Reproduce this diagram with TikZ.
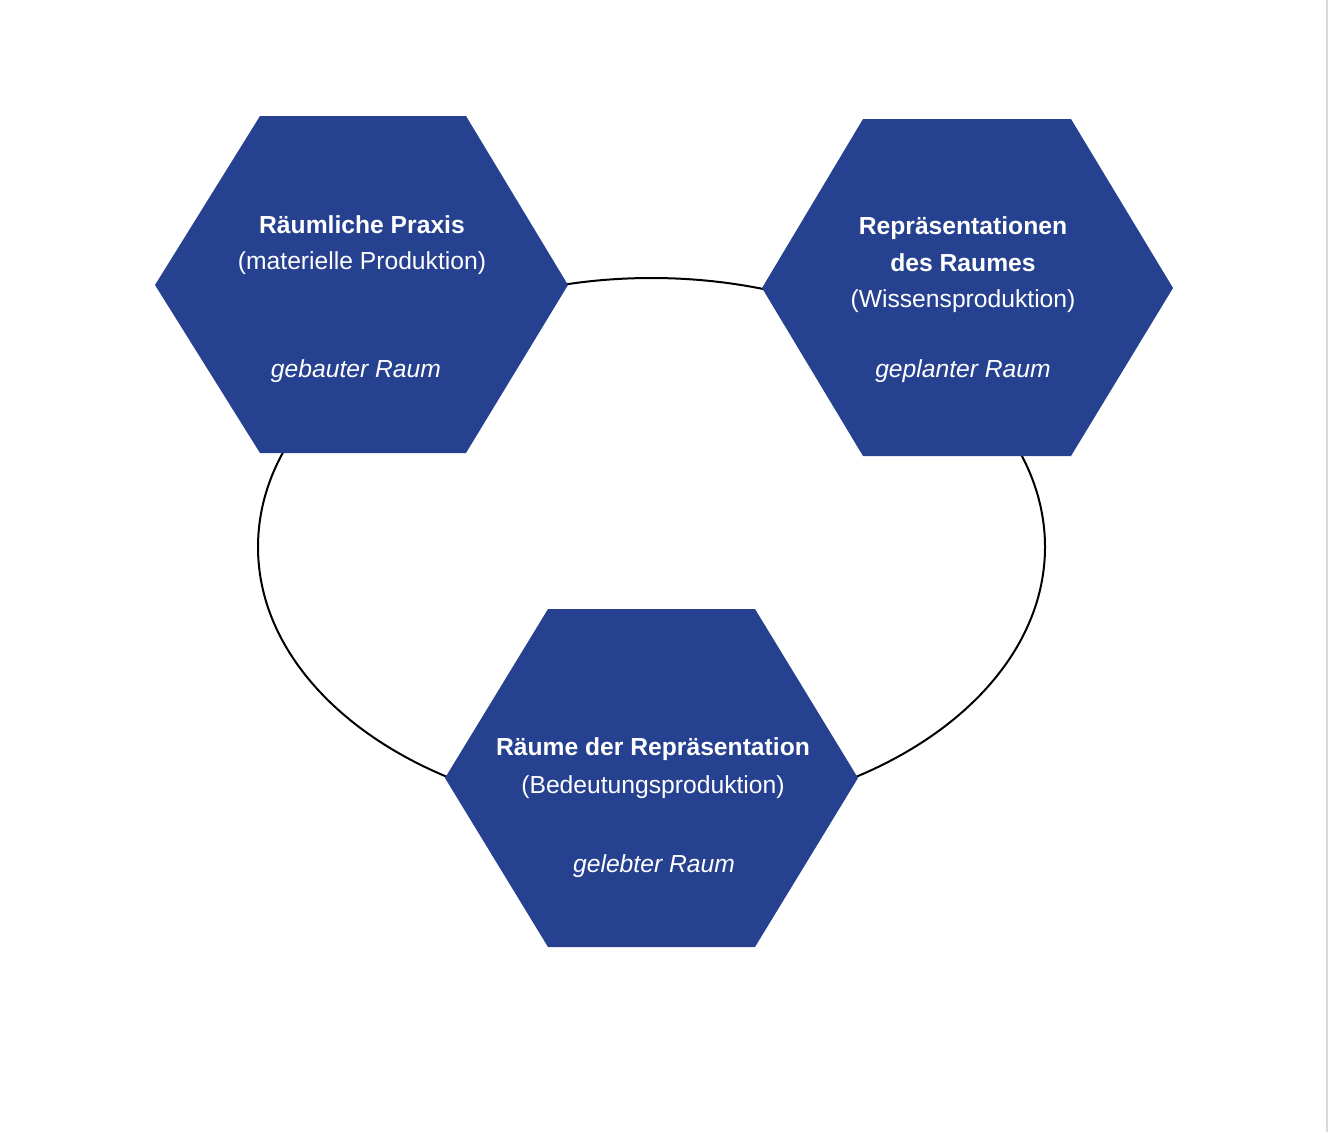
\documentclass[tikz,border=0pt]{standalone}
\usepackage{fontspec}
\setmainfont{Liberation Sans}
\definecolor{hexblue}{HTML}{26418F}
\tikzset{
  hexa/.style={fill=hexblue, draw=none},
  label/.style={text=white, font=\fontsize{18.5}{28}\selectfont, align=center, inner sep=0pt},
}
\begin{document}
\begin{tikzpicture}[x=0.75pt, y=-0.75pt]
	\useasboundingbox (0,0) rectangle (1334,1132);
	\draw[gray!30, line width=1pt] (1327,0) -- (1327,1132);

	% connecting ring
	\draw[line width=1.5pt] (651.5,547) ellipse (393.5 and 269);

	% hexagons
	\fill[hexa] (155,285) -- (260,116) -- (466,116) -- (568,285) -- (466,453) -- (260,453) -- cycle;
	\fill[hexa] (762,288) -- (863,119) -- (1071,119) -- (1173,288) -- (1071,456) -- (863,456) -- cycle;
	\fill[hexa] (445,778) -- (548,609) -- (755,609) -- (858,778) -- (755,947) -- (548,947) -- cycle;

	\node[label] (praxis) at (362,225) {\textbf{Räumliche Praxis}};
	\node[label] (praxisB) at (362,263) {(materielle Produktion)};
	\node[label] (praxisC) at (356,371) {\textit{gebauter Raum}};

	\node[label] (repr) at (963,244) {\textbf{Repräsentationen}\\\textbf{des Raumes}};
	\node[label] (reprB) at (963,301) {(Wissensproduktion)};
	\node[label] (reprC) at (963,371) {\textit{geplanter Raum}};

	\node[label] (raeume) at (653,749) {\textbf{Räume der Repräsentation}};
	\node[label] (raeumeB) at (653,787) {(Bedeutungsproduktion)};
	\node[label] (raeumeC) at (654,866) {\textit{gelebter Raum}};
\end{tikzpicture}
\end{document}
